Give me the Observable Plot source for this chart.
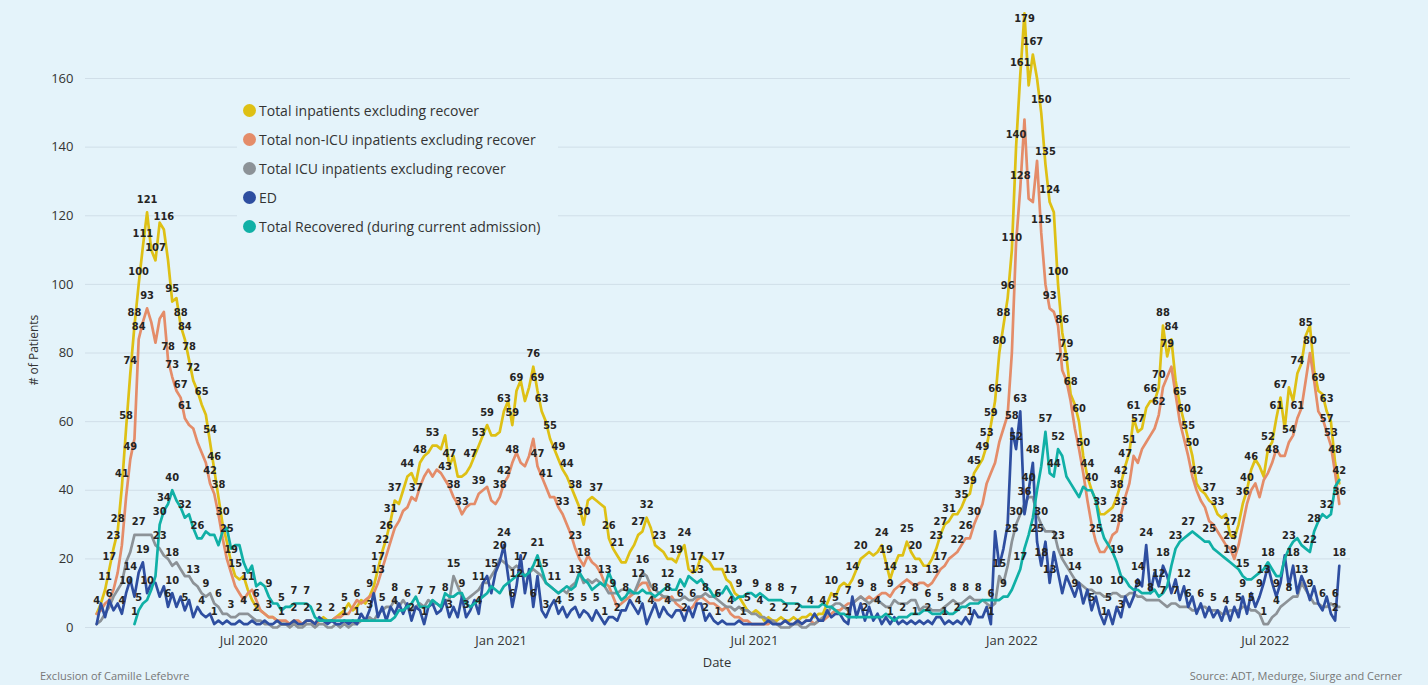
<!DOCTYPE html>
<html>
<head>
<meta charset="utf-8">
<script src="https://cdn.jsdelivr.net/npm/d3@7"></script>
<script src="https://cdn.jsdelivr.net/npm/@observablehq/plot@0.6"></script>
<style>
  html, body { margin: 0; padding: 0; background: #e4f3fa; }
  #wrap { position: relative; width: 1428px; height: 685px; background: #e4f3fa; overflow: hidden;
          font-family: "Segoe UI", "Open Sans", "Noto Sans", sans-serif; }
  #legend { position: absolute; left: 237px; top: 93px; width: 321px; height: 148px; background: #e4f3fa; }
  .item { position: absolute; left: 6px; height: 20px; display: flex; align-items: center;
          font-size: 14px; color: #333; white-space: nowrap; }
  .dot { width: 13px; height: 13px; border-radius: 50%; margin-right: 3px; flex: none; }
  .foot { position: absolute; top: 668px; font-size: 11px; color: #777; }
  .axt { position: absolute; font-size: 13px; color: #333; white-space: nowrap; }
</style>
</head>
<body>
<div id="wrap">
  <div id="chart"></div>
  <div id="legend"></div>
  <div class="axt" id="ytitle" style="left:33px; top:350px; transform: translate(-50%,-50%) rotate(-90deg); font-size:12px;"># of Patients</div>
  <div class="axt" style="left:717px; top:662px; transform: translate(-50%,-50%);">Date</div>
  <div class="foot" style="left:40px;">Exclusion of Camille Lefebvre</div>
  <div class="foot" style="right:26px;">Source: ADT, Medurge, Siurge and Cerner</div>
</div>
<script>
// Daily census sampled every 3 days, starting 18 Mar 2020
const startDate = new Date(Date.UTC(2020, 2, 18));
const stepDays = 3;

const seriesNames = [
  "Total inpatients excluding recover",
  "Total non-ICU inpatients excluding recover",
  "Total ICU inpatients excluding recover",
  "ED",
  "Total Recovered (during current admission)"
];
const seriesColors = ["#dec014", "#e48c69", "#8c9297", "#2e4ea0", "#10b0a6"];

const totalInpatients = [
  4,7,11,17,23,28,41,58,74,88,
  100,111,121,110,107,118,116,107,95,96,
  88,84,78,72,69,65,62,54,46,38,
  30,25,19,15,14,15,11,8,6,5,
  4,3,3,2,1,1,1,2,1,1,
  2,2,1,2,3,2,2,3,4,5,
  7,5,6,8,7,9,12,17,22,26,
  31,37,36,40,44,45,42,48,50,51,
  53,53,52,56,47,50,44,44,45,47,
  50,53,56,59,56,56,57,63,66,59,
  69,72,66,70,76,69,63,60,55,52,
  49,46,44,41,38,35,30,37,38,37,
  36,35,26,23,21,19,19,22,24,27,
  28,32,29,24,23,22,20,20,19,22,
  24,17,16,17,21,20,19,17,17,17,
  14,13,10,9,7,5,4,5,4,2,
  3,2,2,3,2,2,3,2,3,3,
  4,3,4,4,7,10,9,12,13,12,
  14,17,20,21,22,21,22,24,19,14,
  18,21,21,25,22,20,20,18,18,20,
  23,27,30,31,33,33,35,38,39,45,
  47,49,53,59,66,80,88,96,110,140,
  161,179,158,167,160,150,135,124,121,100,
  86,79,68,65,60,50,44,40,37,33,
  33,34,35,38,42,47,51,61,57,58,
  64,66,66,70,88,79,84,72,65,60,
  55,50,42,40,39,37,36,33,32,33,
  27,26,30,36,40,46,49,47,44,52,
  54,61,67,58,70,66,74,77,85,88,
  75,69,68,63,60,48,42
];

const nonIcuInpatients = [
  4,5,7,8,11,16,24,38,49,55,
  84,89,93,89,83,90,92,78,73,69,
  67,61,59,58,54,51,48,42,39,33,
  26,20,16,12,10,8,10,11,8,5,
  4,3,3,2,2,2,1,2,2,1,
  2,2,1,2,2,2,2,3,3,4,
  4,6,8,7,8,9,10,13,17,21,
  25,29,31,34,35,38,37,41,44,46,
  44,46,45,43,41,38,36,33,35,36,
  36,39,40,41,37,36,38,42,44,48,
  51,48,47,50,55,47,44,41,38,38,
  35,33,30,27,23,20,18,21,19,18,
  16,13,12,9,6,7,8,9,10,12,
  13,13,10,8,8,9,8,9,7,6,
  5,5,6,8,9,8,7,7,6,5,
  6,4,3,3,2,2,1,1,1,1,
  1,2,1,1,2,1,1,2,1,2,
  2,1,2,2,3,4,5,5,6,7,
  7,8,9,8,9,8,9,10,10,9,
  11,12,13,14,13,12,13,13,12,13,
  15,17,18,20,21,22,24,26,26,30,
  33,36,42,45,48,54,58,62,80,112,
  128,148,125,124,136,115,100,93,92,88,
  75,72,66,58,52,45,37,30,25,22,
  22,24,27,28,33,38,42,50,48,52,
  54,56,58,62,70,73,76,68,60,55,
  50,44,40,37,35,31,30,28,26,24,
  23,20,24,30,36,40,42,38,43,45,
  48,52,50,50,54,56,61,64,72,80,
  72,63,61,57,53,45,36
];

const icuInpatients = [
  1,2,4,6,9,11,13,19,22,27,
  27,27,27,27,24,23,21,20,18,19,
  17,15,15,13,12,10,9,10,7,6,
  4,4,3,3,4,4,4,3,2,2,
  1,1,0,0,1,1,0,1,0,0,
  1,1,0,1,1,0,0,1,0,1,
  0,1,1,2,2,3,2,4,5,6,
  6,8,6,8,6,5,6,7,6,8,
  7,7,6,8,8,15,12,9,8,9,
  10,11,13,13,15,17,20,19,18,17,
  18,17,15,16,17,16,15,13,12,11,
  10,11,10,12,13,16,13,14,13,14,
  13,12,10,10,10,11,11,10,10,13,
  16,15,12,11,10,9,9,8,8,8,
  9,8,8,9,9,10,9,9,8,7,
  6,6,5,6,5,5,4,4,3,3,
  2,2,1,0,0,0,1,1,0,0,
  1,1,2,3,4,6,7,7,6,5,
  7,8,9,8,7,8,8,7,6,6,
  8,7,7,7,8,8,5,6,6,5,
  5,5,6,7,8,7,7,8,9,8,
  8,8,7,6,7,15,13,18,25,30,
  33,36,38,38,33,30,28,28,28,23,
  20,18,16,14,13,12,11,11,10,10,
  9,9,10,10,9,9,10,10,9,9,
  8,8,8,8,7,6,7,7,6,6,
  6,5,5,6,6,5,5,5,4,4,
  5,5,5,6,6,5,5,4,1,1,
  3,4,6,7,8,9,9,13,11,9,
  7,7,6,6,7,6,6
];

const edPatients = [
  1,7,3,8,5,7,4,10,14,9,
  16,19,10,13,13,9,12,6,10,6,
  9,5,8,3,6,4,3,4,1,2,
  1,2,1,1,2,1,1,2,1,1,
  2,1,1,2,1,1,1,2,1,1,
  2,2,1,3,2,1,2,1,1,2,
  1,2,1,4,2,5,10,3,6,2,
  6,4,7,4,7,2,6,5,1,6,
  7,4,5,8,3,6,3,9,3,5,
  8,4,13,15,10,16,19,24,15,6,
  12,21,10,17,6,15,5,3,6,8,
  4,6,3,5,6,3,5,4,2,5,
  3,1,3,3,2,5,5,8,6,4,
  7,1,4,7,3,6,4,3,5,5,
  2,6,3,7,7,2,4,2,1,2,
  1,1,1,2,1,1,1,1,1,1,
  2,1,1,1,2,1,1,2,1,2,
  2,4,2,2,5,3,4,4,2,1,
  9,3,7,2,6,2,4,1,3,1,
  3,1,2,1,2,1,2,1,2,1,
  3,3,1,2,1,2,1,3,1,5,
  3,3,6,1,28,18,23,30,58,52,
  63,33,40,48,25,18,25,13,22,16,
  10,15,12,9,13,7,11,5,9,4,
  1,5,1,6,3,9,6,9,14,12,
  24,10,16,12,18,15,10,14,8,12,
  6,9,4,7,3,6,3,5,2,6,
  2,6,3,9,4,10,6,9,13,18,
  13,9,13,21,12,18,10,15,12,8,
  12,7,5,9,4,2,18
];

const recovered = [
  null,null,null,null,null,null,null,null,null,1,
  5,7,8,11,15,30,34,36,40,37,
  35,32,33,29,26,26,28,27,27,24,
  28,29,23,24,24,19,16,18,12,13,
  12,9,7,7,5,6,6,7,7,7,
  7,6,3,2,2,2,2,2,2,2,
  2,2,2,2,2,2,2,2,2,2,
  2,3,5,5,6,7,9,6,6,6,
  8,7,6,10,9,9,10,10,7,6,
  7,8,9,10,12,11,10,12,13,14,
  15,16,15,16,18,21,17,13,12,11,
  10,11,12,11,12,16,14,13,11,12,
  13,12,16,13,10,8,9,11,10,10,
  11,10,10,9,10,11,12,11,11,14,
  12,15,14,13,14,12,11,9,10,10,
  12,10,8,9,9,10,10,9,10,9,
  8,8,8,8,7,7,7,7,6,6,
  6,6,6,7,6,6,5,4,4,3,
  3,3,3,3,3,3,3,3,4,3,
  2,3,3,3,4,4,4,5,5,4,
  4,4,5,4,4,5,6,6,7,7,
  7,8,8,8,8,8,9,9,11,14,
  17,23,27,32,40,47,57,45,44,52,
  50,44,42,40,38,41,40,40,37,30,
  26,24,22,19,15,14,12,11,11,10,
  10,10,11,9,10,12,18,23,25,26,
  27,28,27,26,25,25,23,22,21,20,
  19,18,17,15,14,14,15,16,17,19,
  17,15,15,20,23,25,26,24,23,22,
  28,31,33,32,33,41,43
];

const seriesValues = [totalInpatients, nonIcuInpatients, icuInpatients, edPatients, recovered];

const xTickDates = [new Date(Date.UTC(2020, 6, 1)), new Date(Date.UTC(2021, 0, 1)),
                    new Date(Date.UTC(2021, 6, 1)), new Date(Date.UTC(2022, 0, 1)),
                    new Date(Date.UTC(2022, 6, 1))];
const xTickLabels = ["Jul 2020", "Jan 2021", "Jul 2021", "Jan 2022", "Jul 2022"];
const yTicks = [0, 20, 40, 60, 80, 100, 120, 140, 160];

// Long-format rows for the line marks
const rows = [];
seriesValues.forEach((vals, s) => {
  vals.forEach((v, i) => {
    rows.push({series: seriesNames[s], s, date: d3.utcDay.offset(startDate, i * stepDays), value: v});
  });
});

const labelFont = "'DIN', 'DejaVu Sans Condensed', 'Roboto Condensed', 'Liberation Sans Narrow', Roboto, sans-serif";
const baseOptions = {
  width: 1428,
  height: 670,
  marginLeft: 85,
  marginRight: 78,
  marginTop: 9.4,
  marginBottom: 43,
  x: {type: "utc", domain: [new Date(Date.UTC(2020, 2, 10)), new Date(Date.UTC(2022, 7, 31))]},
  y: {domain: [0, 180]},
  style: {background: "transparent", fontFamily: "'Segoe UI', 'Open Sans', 'Noto Sans', sans-serif",
          fontSize: "13px", color: "#333", overflow: "visible"}
};

// Data labels: greedy placement that skips any label colliding with one already placed
const probe = Plot.plot({...baseOptions, marks: [Plot.ruleY([0])]});
const sx = probe.scale("x"), sy = probe.scale("y");
const boxes = [];
const aboveLabels = [], insideLabels = [];
for (let s = 0; s < seriesValues.length; s++) {
  for (const r of rows) {
    if (r.s !== s || r.value == null) continue;
    const px = sx.apply(r.date), py = sy.apply(r.value);
    const t = String(r.value);
    const w = t.length * 7.2 + 3, h = 13;
    let cy = py - 13, inside = false;
    if (cy - h / 2 < 2) { cy = py + 5; inside = true; }
    const b = [px - w / 2, cy - h / 2, px + w / 2, cy + h / 2];
    if (boxes.some(o => b[0] < o[2] && b[2] > o[0] && b[1] < o[3] && b[3] > o[1])) continue;
    boxes.push(b);
    (inside ? insideLabels : aboveLabels).push(r);
  }
}

const tickText = new Map(xTickDates.map((d, i) => [+d, xTickLabels[i]]));
const lineMarks = seriesNames.map((name, s) =>
  Plot.line(rows.filter(r => r.s === s), {
    x: "date", y: "value", stroke: seriesColors[s], strokeWidth: 2.7,
    strokeLinejoin: "round", strokeLinecap: "round"
  })
);
const textStyle = {x: "date", y: "value", text: d => String(d.value), fill: "#252423",
                   fontSize: 11, fontWeight: 600, fontFamily: labelFont};

const chart = Plot.plot({
  ...baseOptions,
  marks: [
    Plot.gridY(yTicks, {stroke: "#d0dee8", strokeOpacity: 1, strokeWidth: 1}),
    Plot.axisY(yTicks, {tickSize: 0, tickPadding: 12, label: null, fontSize: 13}),
    Plot.axisX(xTickDates, {tickSize: 0, tickPadding: 8, label: null, fontSize: 13,
                            tickFormat: d => tickText.get(+d)}),
    ...lineMarks,
    Plot.text(aboveLabels, {...textStyle, dy: -13}),
    Plot.text(insideLabels, {...textStyle, dy: 5})
  ]
});
document.getElementById("chart").appendChild(chart);

// Legend
const legend = document.getElementById("legend");
seriesNames.forEach((name, s) => {
  const item = document.createElement("div");
  item.className = "item";
  item.style.top = (7 + s * 29.2) + "px";
  const dot = document.createElement("span");
  dot.className = "dot";
  dot.style.background = seriesColors[s];
  item.appendChild(dot);
  item.appendChild(document.createTextNode(name));
  legend.appendChild(item);
});
</script>
</body>
</html>
